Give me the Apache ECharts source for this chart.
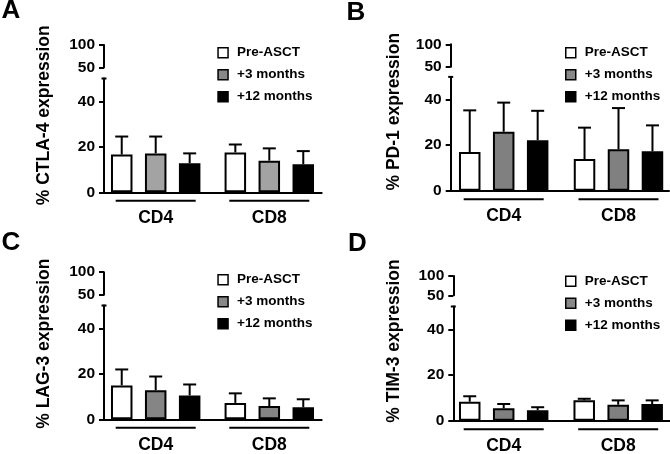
<!DOCTYPE html>
<html><head><meta charset="utf-8">
<script src="https://cdn.jsdelivr.net/npm/echarts@6/dist/echarts.min.js"></script>
<style>html,body{margin:0;padding:0;background:#fff}#c{width:670px;height:454px}</style>
</head><body><div id="c"></div>
<script>
// ---- data ----
const groups = ['CD4', 'CD8'];
const seriesNames = ['Pre-ASCT', '+3 months', '+12 months'];
const yTicksLower = [0, 20, 40];
const yTicksUpper = [50, 100];
const markers = ['CTLA-4', 'PD-1', 'LAG-3', 'TIM-3'];
const panelLetters = ['A', 'B', 'C', 'D'];
// mean per series [Pre-ASCT, +3 months, +12 months], each [CD4, CD8]
const ctla4Mean = [[16.6, 17.5], [17.1, 13.9], [12.8, 12.3]];
const ctla4Sd   = [[7.9, 3.5], [7.4, 5.4], [4.3, 5.8]];
const pd1Mean   = [[17.0, 13.9], [25.9, 18.2], [22.2, 17.3]];
const pd1Sd     = [[18.3, 13.8], [12.8, 18.1], [12.9, 11.4]];
const lag3Mean  = [[14.9, 7.2], [12.8, 5.8], [10.5, 5.3]];
const lag3Sd    = [[7.0, 4.2], [6.0, 3.4], [4.8, 3.5]];
const tim3Mean  = [[8.3, 8.9], [5.4, 7.0], [4.6, 7.3]];
const tim3Sd    = [[2.4, 0.7], [1.9, 1.9], [1.3, 1.6]];

const panelMeans = [ctla4Mean, pd1Mean, lag3Mean, tim3Mean];
const panelSds = [ctla4Sd, pd1Sd, lag3Sd, tim3Sd];

// ---- layout / style ----
const FONT = '"Liberation Sans", Arial, Helvetica, sans-serif';
const layout = [
  {ax:104,   zero:192.3, top:78.5,  upTop:45,    upBot:67.5,  right:321.7, c1:155.7, c2:269.3, lx:217.3, ly:47.7,  tx:44,  ty:115.3, px:1.5,   py:11.2, gray:'#a3a3a3'},
  {ax:450.7, zero:190.7, top:76.9,  upTop:44.3,  upBot:66.7,  right:669,   c1:503.7, c2:618.5, lx:565,   ly:47.7,  tx:394, ty:111.7, px:346.5, py:12.8, gray:'#808080'},
  {ax:104,   zero:419.3, top:305.5, upTop:272.2, upBot:294.7, right:321.7, c1:155.7, c2:269.3, lx:217.3, ly:274.7, tx:44,  ty:343.7, px:1.5,   py:243,  gray:'#858585'},
  {ax:453.3, zero:420.7, top:306.5, upTop:276,   upBot:295.3, right:670,   c1:503.7, c2:618.2, lx:565,   ly:276.3, tx:394, ty:341,   px:348,   py:244,  gray:'#808080'}
];
const BW = 21.5, GAP = 0.58, STEP = BW * (1 + GAP);

const chart = echarts.init(document.getElementById('c'), null, {renderer: 'canvas'});
const grid = [], xAxis = [], yAxis = [], series = [], legend = [], graphic = [];

layout.forEach((L, p) => {
  const W = L.right - L.ax;
  const d1 = L.c1 - L.ax, d2 = L.c2 - L.ax;
  const k = d2 - d1;
  const xmin = 1 - d1 / k, xmax = xmin + W / k;
  const lowIdx = 2 * p, upIdx = 2 * p + 1;
  grid.push({left: L.ax, top: L.top, width: W, height: L.zero - L.top});
  grid.push({left: L.ax, top: L.upTop, width: 10, height: L.upBot - L.upTop});
  xAxis.push({type: 'value', gridIndex: lowIdx, min: xmin, max: xmax,
    axisLine: {show: true, onZero: false, lineStyle: {color: '#000', width: 2}},
    axisTick: {show: false}, axisLabel: {show: false}, splitLine: {show: false}});
  xAxis.push({type: 'value', gridIndex: upIdx, show: false, min: 0, max: 1});
  const lab = {color: '#000', fontSize: 15.5, fontWeight: 'bold', fontFamily: FONT, margin: 9};
  yAxis.push({type: 'value', gridIndex: lowIdx, min: 0, max: 50, interval: 20,
    axisLine: {show: true, lineStyle: {color: '#000', width: 2}, symbol: ['none', 'rect'], symbolSize: [5, 2]},
    axisTick: {show: true, length: 5, lineStyle: {color: '#000', width: 2}, customValues: yTicksLower},
    axisLabel: Object.assign({customValues: yTicksLower}, lab),
    splitLine: {show: false}});
  yAxis.push({type: 'value', gridIndex: upIdx, min: 50, max: 100, interval: 50,
    axisLine: {show: true, lineStyle: {color: '#000', width: 2}},
    axisTick: {show: true, length: 5, lineStyle: {color: '#000', width: 2}, customValues: yTicksUpper},
    axisLabel: Object.assign({customValues: yTicksUpper}, lab),
    splitLine: {show: false}});

  const colors = ['#ffffff', L.gray, '#000000'];
  const means = panelMeans[p], sds = panelSds[p];
  const errData = [];
  seriesNames.forEach((name, si) => {
    series.push({
      type: 'bar', name: name, xAxisIndex: lowIdx, yAxisIndex: lowIdx,
      barWidth: BW, barGap: (GAP * 100) + '%',
      itemStyle: {color: colors[si], borderColor: '#000', borderWidth: 2},
      data: groups.map((g, gi) => [gi + 1, means[si][gi]]),
      silent: true, z: 2
    });
    groups.forEach((g, gi) => errData.push([gi + 1, means[si][gi], sds[si][gi], si]));
  });
  series.push({
    type: 'custom', xAxisIndex: lowIdx, yAxisIndex: lowIdx, silent: true, z: 3,
    data: errData,
    renderItem: function (params, api) {
      const x = api.value(0), m = api.value(1), s = api.value(2), si = api.value(3);
      const b = api.coord([x, m]), t = api.coord([x, m + s]);
      const cx = b[0] + (si - 1) * STEP;
      return {type: 'group', children: [
        {type: 'line', shape: {x1: cx, y1: b[1], x2: cx, y2: t[1]}, style: {stroke: '#000', lineWidth: 2}},
        {type: 'line', shape: {x1: cx - 6.5, y1: t[1], x2: cx + 6.5, y2: t[1]}, style: {stroke: '#000', lineWidth: 2}}
      ]};
    }
  });
  series.push({
    type: 'custom', xAxisIndex: lowIdx, yAxisIndex: lowIdx, silent: true, z: 3,
    data: groups.map((g, gi) => [gi + 1, 0]),
    renderItem: function (params, api) {
      const pt = api.coord([api.value(0), 0]);
      return {type: 'group', children: [
        {type: 'line', shape: {x1: pt[0] - 40, y1: pt[1] + 8.5, x2: pt[0] + 40, y2: pt[1] + 8.5}, style: {stroke: '#000', lineWidth: 2}},
        {type: 'text', x: pt[0], y: pt[1] + 25.5, style: {text: groups[params.dataIndex], fontSize: 17.5, fontWeight: 'bold', fontFamily: FONT, fill: '#000', align: 'center', verticalAlign: 'middle'}}
      ]};
    }
  });

  const legendColors = ['#ffffff', '#888888', '#000000'];
  legend.push({
    orient: 'vertical', left: L.lx, top: L.ly - 3, itemWidth: 10, itemHeight: 10, itemGap: 6,
    icon: 'rect', selectedMode: false, padding: 0,
    textStyle: {fontSize: 13.5, fontWeight: 'bold', fontFamily: FONT, color: '#000', lineHeight: 16, padding: [0, 0, 0, 4]},
    data: seriesNames.map((n, i) => ({name: n, itemStyle: {color: legendColors[i], borderColor: '#000', borderWidth: 1.5}}))
  });

  graphic.push({type: 'text', x: L.tx, y: L.ty, rotation: Math.PI / 2,
    style: {text: '% ' + markers[p] + ' expression', fontSize: 17.5, fontWeight: 'bold', fontFamily: FONT, fill: '#000', align: 'center', verticalAlign: 'middle'}});
  graphic.push({type: 'text', x: L.px, y: L.py,
    style: {text: panelLetters[p], fontSize: 26, fontWeight: 'bold', fontFamily: FONT, fill: '#000', align: 'left', verticalAlign: 'middle'}});
});

chart.setOption({
  animation: false,
  backgroundColor: '#ffffff',
  grid: grid, xAxis: xAxis, yAxis: yAxis, series: series, legend: legend, graphic: graphic
});
</script>
</body></html>
